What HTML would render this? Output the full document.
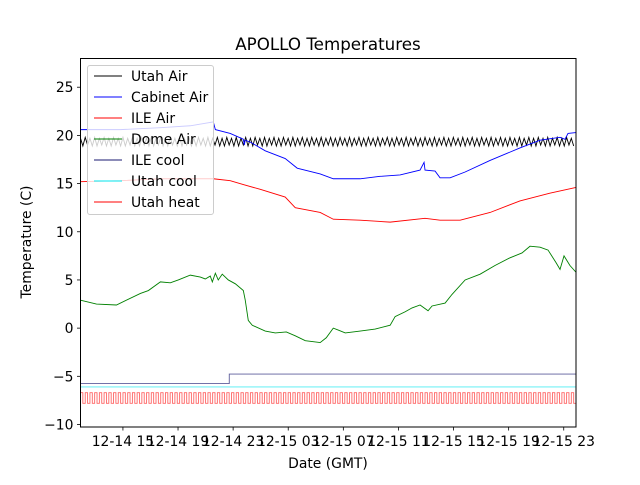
<!DOCTYPE html>
<html><head><meta charset="utf-8"><style>
body{margin:0;background:#fff}
svg text{font-family:"DejaVu Sans","Liberation Sans",sans-serif;fill:#000}
</style></head><body>
<svg id="chart" width="640" height="480" viewBox="0 0 640 480" xmlns="http://www.w3.org/2000/svg">
<rect width="640" height="480" fill="#fff"/>
<text x="328" y="50" font-size="16.7" text-anchor="middle">APOLLO Temperatures</text>
<g id="plot"></g>
<rect x="80.5" y="58.5" width="495.5" height="368.5" fill="none" stroke="#000" stroke-width="1"/>
<g id="ticks"></g>
<text x="328" y="468" font-size="13.9" text-anchor="middle">Date (GMT)</text>
<text transform="translate(31,242) rotate(-90)" font-size="13.9" text-anchor="middle">Temperature (C)</text>
<g id="legend"></g>
</svg>
<script>
// hours relative to 12-14 15:00 GMT
const xTicks = [0,4,8,12,16,20,24,28,32];
const xTickLabels = ["12-14 15","12-14 19","12-14 23","12-15 03","12-15 07","12-15 11","12-15 15","12-15 19","12-15 23"];
const yTicks = [-10,-5,0,5,10,15,20,25];
const seriesNames = ["Utah Air","Cabinet Air","ILE Air","Dome Air","ILE cool","Utah cool","Utah heat"];
const seriesColors = ["#000000","#0000ff","#ff0000","#008000","#191970","#00e5ee","#ff0000"];

const domeTimes = [-3.08,-1.92,-0.47,1.27,1.85,2.72,3.44,4.02,4.89,5.62,5.98,6.34,6.49,6.71,6.92,7.21,7.65,8.16,8.74,8.88,9.10,9.39,10.33,11.06,11.86,12.51,13.24,14.32,14.76,15.27,15.63,16.14,17.22,18.31,19.40,19.76,20.49,20.99,21.57,22.15,22.44,23.39,23.89,24.84,25.93,27.01,28.10,28.97,29.55,30.28,30.86,31.44,31.73,32.02,32.45,32.89];
const domeValues = [2.9,2.5,2.4,3.6,3.9,4.8,4.7,5.0,5.5,5.3,5.1,5.4,4.8,5.7,5.0,5.6,5.0,4.6,3.9,2.9,0.8,0.3,-0.3,-0.5,-0.4,-0.8,-1.3,-1.5,-1.0,0.0,-0.2,-0.5,-0.3,-0.1,0.3,1.2,1.7,2.1,2.4,1.8,2.3,2.6,3.5,5.0,5.6,6.5,7.3,7.8,8.5,8.4,8.1,6.8,6.1,7.5,6.5,5.8];

const cabTimes = [-3.08,-0.18,2.72,4.89,6.56,6.71,7.79,8.74,8.81,8.88,9.25,10.33,11.78,12.65,14.32,15.27,17.22,18.67,20.12,21.57,21.86,21.93,22.66,23.02,23.75,24.84,26.65,28.82,30.28,31.73,32.09,32.31,32.89];
const cabValues = [20.6,20.6,20.8,21.0,21.4,20.6,20.2,19.6,19.0,19.5,19.3,18.4,17.6,16.6,16.0,15.5,15.5,15.75,15.9,16.4,17.2,16.4,16.3,15.6,15.6,16.2,17.4,18.7,19.5,19.8,19.6,20.2,20.3];

const ileTimes = [-3.08,-0.18,2.72,6.56,7.79,8.74,9.97,11.78,12.51,14.32,15.27,17.22,19.40,21.93,23.02,24.48,26.65,28.82,30.99,32.89];
const ileValues = [15.2,15.3,15.5,15.5,15.3,14.9,14.4,13.6,12.5,12.0,11.3,11.2,11.0,11.4,11.2,11.2,12.0,13.2,14.0,14.6];

const ileCoolTimes = [-3.08,7.72,7.72,32.89];
const ileCoolValues = [-5.75,-5.75,-4.77,-4.77];
const utahCoolTimes = [-3.08,32.89];
const utahCoolValues = [-6.1,-6.1];

const utahStart = -3.08, utahStep = 0.1713;
const utahAirValues = [
19.7,18.9,19.8,19.0,19.7,18.9,19.8,18.9,19.7,19.0,19.8,18.9,19.7,18.9,19.8,19.0,19.7,18.9,19.8,18.9,
19.7,19.0,19.8,18.9,19.7,18.9,19.8,19.0,19.7,18.9,19.8,18.9,19.7,19.0,19.8,18.9,19.7,18.9,19.8,19.0,
19.7,18.9,19.8,18.9,19.7,19.0,19.8,18.9,19.7,18.9,19.8,19.0,19.7,18.9,19.8,18.9,19.7,19.0,19.8,18.9,
19.7,18.9,19.8,19.0,19.7,18.9,19.8,18.9,19.7,19.0,19.8,18.9,19.7,18.9,19.8,19.0,19.7,18.9,19.8,18.9,
19.7,19.0,19.8,18.9,19.7,18.9,19.8,19.0,19.7,18.9,19.8,18.9,19.7,19.0,19.8,18.9,19.7,18.9,19.8,19.0,
19.7,18.9,19.8,18.9,19.7,19.0,19.8,18.9,19.7,18.9,19.8,19.0,19.7,18.9,19.8,18.9,19.7,19.0,19.8,18.9,
19.7,18.9,19.8,19.0,19.7,18.9,19.8,18.9,19.7,19.0,19.8,18.9,19.7,18.9,19.8,19.0,19.7,18.9,19.8,18.9,
19.7,19.0,19.8,18.9,19.7,18.9,19.8,19.0,19.7,18.9,19.8,18.9,19.7,19.0,19.8,18.9,19.7,18.9,19.8,19.0,
19.7,18.9,19.8,18.9,19.7,19.0,19.8,18.9,19.7,18.9,19.8,19.0,19.7,18.9,19.8,18.9,19.7,19.0,19.8,18.9,
19.7,18.9,19.8,19.0,19.7,18.9,19.8,18.9,19.7,19.0,19.8,18.9,19.7,18.9,19.8,19.0,19.7,18.9,19.8,18.9,
19.7,19.0,19.8,18.9,19.7,18.9,19.8,19.0,19.7,18.9];
const utahHeatValues = [
-6.7,-7.8,-6.7,-7.8,-6.7,-7.8,-6.7,-7.8,-6.7,-7.8,-6.7,-7.8,-6.7,-7.8,-6.7,-7.8,-6.7,-7.8,-6.7,-7.8,
-6.7,-7.8,-6.7,-7.8,-6.7,-7.8,-6.7,-7.8,-6.7,-7.8,-6.7,-7.8,-6.7,-7.8,-6.7,-7.8,-6.7,-7.8,-6.7,-7.8,
-6.7,-7.8,-6.7,-7.8,-6.7,-7.8,-6.7,-7.8,-6.7,-7.8,-6.7,-7.8,-6.7,-7.8,-6.7,-7.8,-6.7,-7.8,-6.7,-7.8,
-6.7,-7.8,-6.7,-7.8,-6.7,-7.8,-6.7,-7.8,-6.7,-7.8,-6.7,-7.8,-6.7,-7.8,-6.7,-7.8,-6.7,-7.8,-6.7,-7.8,
-6.7,-7.8,-6.7,-7.8,-6.7,-7.8,-6.7,-7.8,-6.7,-7.8,-6.7,-7.8,-6.7,-7.8,-6.7,-7.8,-6.7,-7.8,-6.7,-7.8,
-6.7,-7.8,-6.7,-7.8,-6.7,-7.8,-6.7,-7.8,-6.7,-7.8,-6.7,-7.8,-6.7,-7.8,-6.7,-7.8,-6.7,-7.8,-6.7,-7.8,
-6.7,-7.8,-6.7,-7.8,-6.7,-7.8,-6.7,-7.8,-6.7,-7.8,-6.7,-7.8,-6.7,-7.8,-6.7,-7.8,-6.7,-7.8,-6.7,-7.8,
-6.7,-7.8,-6.7,-7.8,-6.7,-7.8,-6.7,-7.8,-6.7,-7.8,-6.7,-7.8,-6.7,-7.8,-6.7,-7.8,-6.7,-7.8,-6.7,-7.8,
-6.7,-7.8,-6.7,-7.8,-6.7,-7.8,-6.7,-7.8,-6.7,-7.8,-6.7,-7.8,-6.7,-7.8,-6.7,-7.8,-6.7,-7.8,-6.7,-7.8,
-6.7,-7.8,-6.7,-7.8,-6.7,-7.8,-6.7,-7.8,-6.7,-7.8,-6.7,-7.8,-6.7,-7.8,-6.7,-7.8,-6.7,-7.8,-6.7,-7.8,
-6.7,-7.8,-6.7,-7.8,-6.7,-7.8,-6.7,-7.8,-6.7,-7.8];

const NS = "http://www.w3.org/2000/svg";
const X0 = 80.5, X1 = 576, Y0 = 58.5, Y1 = 427;
const tMin = -3.08, tMax = 32.89, vMin = -10.26, vMax = 27.98;
function xs(t){ return X0 + (t - tMin) / (tMax - tMin) * (X1 - X0); }
function ys(v){ return Y1 - (v - vMin) / (vMax - vMin) * (Y1 - Y0); }
function mk(tag, attrs, parent){ const e = document.createElementNS(NS, tag); for (const k in attrs) e.setAttribute(k, attrs[k]); parent.appendChild(e); return e; }

const plot = document.getElementById('plot');
function drawLine(times, vals, color, name, opacity){
  const pts = times.map((t,i)=>xs(t).toFixed(2)+','+ys(vals[i]).toFixed(2)).join(' ');
  const pl = mk('polyline', {points: pts, fill: 'none', stroke: color, 'stroke-width': 0.9, 'stroke-opacity': opacity}, plot);
  
  
}
const utahTimes = utahAirValues.map((v,i)=>utahStart + i*utahStep);
drawLine(utahTimes, utahAirValues, seriesColors[0], 'utah-air-line', 1);
drawLine(cabTimes, cabValues, seriesColors[1], 'cabinet-air-line', 1);
drawLine(ileTimes, ileValues, seriesColors[2], 'ile-air-line', 1);
drawLine(domeTimes, domeValues, seriesColors[3], 'dome-air-line', 1);
drawLine(ileCoolTimes, ileCoolValues, seriesColors[4], 'ile-cool-line', 0.7);
drawLine(utahCoolTimes, utahCoolValues, seriesColors[5], 'utah-cool-line', 0.7);
// utah heat as step line
const hT = [], hV = [];
utahHeatValues.forEach((v,i)=>{ const t0 = utahStart + i*utahStep; hT.push(t0); hV.push(v); hT.push(Math.min(t0+utahStep, tMax)); hV.push(v); });
drawLine(hT, hV, seriesColors[6], 'utah-heat-line', 0.6);

const ticks = document.getElementById('ticks');
xTicks.forEach((t,i)=>{
  const x = xs(t);
  const l = mk('line', {x1:x, x2:x, y1:Y1, y2:Y1+3.5, stroke:'#000', 'stroke-width':0.8}, ticks);
  
  
  const tx = mk('text', {x:x, y:Y1+19, 'font-size':13.9, 'text-anchor':'middle'}, ticks);
  tx.textContent = xTickLabels[i];
  
  
});
yTicks.forEach(v=>{
  const y = ys(v);
  const l = mk('line', {x1:X0-3.5, x2:X0, y1:y, y2:y, stroke:'#000', 'stroke-width':0.8}, ticks);
  
  
  const tx = mk('text', {x:X0-7, y:y+5, 'font-size':13.9, 'text-anchor':'end'}, ticks);
  tx.textContent = String(v).replace('-', '\u2212');
  
  
});

const lg = document.getElementById('legend');
const box = mk('rect', {x:87.5, y:65.5, width:126, height:149, rx:2.5, fill:'#fff', 'fill-opacity':0.8, stroke:'#ccc', 'stroke-width':1}, lg);


seriesNames.forEach((n,i)=>{
  const y = 76 + i*21;
  const g = mk('g', {}, lg);
  
  
  mk('line', {x1:94, x2:122, y1:y, y2:y, stroke:seriesColors[i], 'stroke-width':1}, g);
  const tx = mk('text', {x:131, y:y+5, 'font-size':13.9}, g);
  tx.textContent = n;
});
</script>
</body></html>
